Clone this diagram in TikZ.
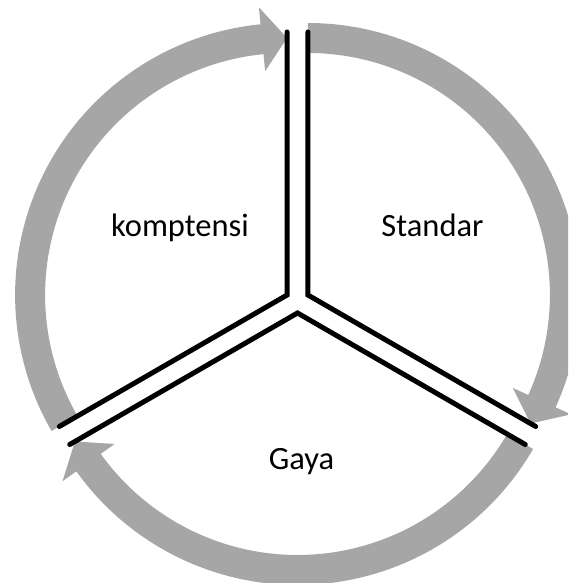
\documentclass[tikz,border=0pt]{standalone}
\usepackage{fontspec}
\setmainfont{Carlito}
\usetikzlibrary{calc}
\definecolor{arrowgray}{HTML}{A6A6A6}
\tikzset{
  cyclearrow/.style={fill=arrowgray, draw=none},
  sectoredge/.style={draw=black, line width=5pt, line join=miter, line cap=round},
  sectorlabel/.style={font=\fontsize{32.5}{38}\selectfont, anchor=base, inner sep=0pt}
}
% #1 apex, #2 start angle, #3 end (tip) angle, #4 head base angle
\newcommand{\ringarrow}[4]{%
  \begin{scope}[shift={(#1)}]
    \fill[cyclearrow] (#2:272) arc[start angle=#2, end angle=#4, radius=272]
      -- (#4:289) -- (#3:257) -- (#4:225) -- (#4:242)
      arc[start angle=#4, end angle=#2, radius=242] -- cycle;
  \end{scope}}
\begin{document}
\begin{tikzpicture}[x=1pt,y=1pt]
\useasboundingbox (0,0) rectangle (568,583);
\clip (0,0) rectangle (568,583);
\coordinate (c) at (297.5,282);
\coordinate (a1) at (287.1,288);
\coordinate (a2) at (307.9,288);
\coordinate (a3) at (297.5,270);
% grey cycle arrows
\ringarrow{a1}{210}{90}{95.6}
\ringarrow{a2}{90}{-30}{-24.4}
\ringarrow{a3}{-30}{-150}{-144.4}
% sector edges
\draw[sectoredge] ($(a1)+(90:263)$) -- (a1) -- ($(a1)+(210:263)$);
\draw[sectoredge] ($(a2)+(90:263)$) -- (a2) -- ($(a2)+(-30:263)$);
\draw[sectoredge] ($(a3)+(210:263)$) -- (a3) -- ($(a3)+(-30:263)$);
% labels
\node[sectorlabel] (komp) at (180,346) {komptensi};
\node[sectorlabel] (std) at (432.5,346) {Standar};
\node[sectorlabel] (gaya) at (301.5,113) {Gaya};
\end{tikzpicture}
\end{document}
